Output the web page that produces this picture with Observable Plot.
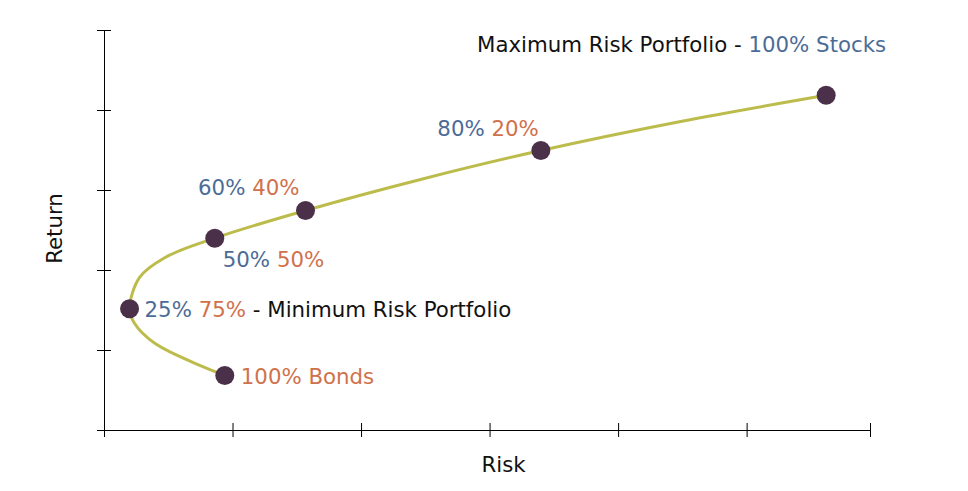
<!DOCTYPE html>
<html>
<head>
<meta charset="utf-8">
<script src="https://cdn.jsdelivr.net/npm/d3@7"></script>
<script src="https://cdn.jsdelivr.net/npm/@observablehq/plot@0.6"></script>
<style>
  html, body { margin: 0; padding: 0; background: #fff; }
  #chart svg { display: block; }
</style>
</head>
<body>
<div id="chart"></div>
<script>
// ---- data ----
const portfolios = ["100% Bonds", "25/75", "50/50", "60/40", "80/20", "100% Stocks"];
const stockShare = [0, 25, 50, 60, 80, 100];
const bondShare  = [100, 75, 50, 40, 20, 0];
const risk       = [0.936, 0.195, 0.858, 1.564, 3.395, 5.615];
const ret        = [0.688, 1.521, 2.404, 2.75, 3.50, 4.19];
const notes      = ["", "Minimum Risk Portfolio", "", "", "", "Maximum Risk Portfolio"];

// efficient-frontier curve
const frontierRisk   = [0.936, 0.397, 0.228, 0.195, 0.272, 0.475, 0.858, 1.564, 2.459, 3.395, 4.483, 5.615];
const frontierReturn = [0.688, 1.084, 1.354, 1.521, 1.912, 2.166, 2.404, 2.75, 3.138, 3.50, 3.863, 4.19];

const xTicks = [0, 1, 2, 3, 4, 5, 5.96];
const yTicks = [0, 1, 2, 3, 4, 5];
const xTitle = "Risk";
const yTitle = "Return";

// ---- styles ----
const BLUE = "#4c6c97", ORANGE = "#d0714b", BLACK = "#111", DOT = "#4b3049", LINE = "#bcbc4c";
const FONT = "DejaVu Sans";
const FS = 21.3;

const data = portfolios.map((name, i) => ({
  name, stock: stockShare[i], bond: bondShare[i], risk: risk[i], ret: ret[i], note: notes[i]
}));
const frontier = frontierRisk.map((r, i) => ({risk: r, ret: frontierReturn[i]}));

function segments(d) {
  if (d.stock === 0) return [[`${d.bond}% Bonds`, ORANGE]];
  if (d.bond === 0) return [[`${d.note} - `, BLACK], [`${d.stock}% Stocks`, BLUE]];
  const s = [[`${d.stock}%`, BLUE], [" ", BLACK], [`${d.bond}%`, ORANGE]];
  if (d.note) s.push([` - ${d.note}`, BLACK]);
  return s;
}

// label placement relative to each point (style, not data)
const labelLayout = [
  {anchor: "start", dx: 16, dy: 2},
  {anchor: "start", dx: 15, dy: 1},
  {anchor: "start", dx: 8,  dy: 22},
  {anchor: "end",   dx: -6, dy: -22},
  {anchor: "end",   dx: -2, dy: -21},
  {anchor: "end",   dx: 60, dy: -50}
];

const labelMarks = data.map((d, i) => Plot.text([d], {
  x: "risk", y: "ret",
  text: (r) => segments(r).map(s => s[0]).join(""),
  textAnchor: labelLayout[i].anchor,
  dx: labelLayout[i].dx, dy: labelLayout[i].dy,
  fontSize: FS, fill: BLACK,
  ariaDescription: `label-${i}`
}));

const plot = Plot.plot({
  width: 968,
  height: 491,
  marginLeft: 104,
  marginRight: 98,
  marginTop: 30,
  marginBottom: 61,
  style: {fontFamily: FONT, background: "#fff"},
  x: {domain: [0, 5.96], axis: null},
  y: {domain: [0, 5], axis: null},
  marks: [
    // axes lines
    Plot.ruleX([0], {y1: 0, y2: 5, stroke: "#000", strokeWidth: 1}),
    Plot.ruleY([0], {x1: 0, x2: 5.96, stroke: "#000", strokeWidth: 1}),
    // crossing ticks
    Plot.ruleX(xTicks, {x: d => d, y1: 0, y2: 0, insetTop: -7, insetBottom: -7, stroke: "#000"}),
    Plot.ruleY(yTicks, {y: d => d, x1: 0, x2: 0, insetLeft: -7, insetRight: -7, stroke: "#000"}),
    // efficient frontier
    Plot.line(frontier, {x: "risk", y: "ret", curve: "catmull-rom", stroke: LINE, strokeWidth: 3}),
    Plot.dot(data, {x: "risk", y: "ret", r: 9.5, fill: DOT, stroke: "none"}),
    ...labelMarks,
    // axis titles
    Plot.text([xTitle], {frameAnchor: "bottom", lineAnchor: "middle", dx: 16, dy: 35, fontSize: FS, fill: BLACK}),
    Plot.text([yTitle], {frameAnchor: "left", textAnchor: "middle", lineAnchor: "middle", dx: -49, dy: -2, rotate: -90, fontSize: FS, fill: BLACK})
  ]
});

document.getElementById("chart").appendChild(plot);

// colour the parts of each label
data.forEach((d, i) => {
  const t = d3.select(plot).select(`g[aria-description="label-${i}"] text`);
  t.text(null).style("white-space", "pre");
  segments(d).forEach(([s, c]) => t.append("tspan").attr("fill", c).text(s));
});
</script>
</body>
</html>
